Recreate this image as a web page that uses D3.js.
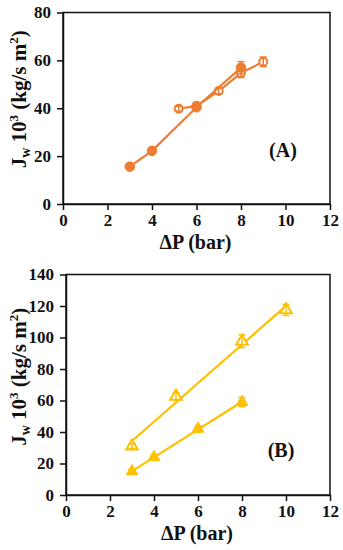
<!DOCTYPE html>
<html>
<head>
<meta charset="utf-8">
<script src="https://cdn.jsdelivr.net/npm/d3@7"></script>
<style>
  body { margin: 0; background: #fff; }
  svg text { font-family: "Liberation Serif", "Times New Roman", serif; font-weight: bold; fill: #111; }
</style>
</head>
<body>
<svg id="chart" width="343" height="550"></svg>
<script>
// panel A: orange circles
const aFilledX = [3, 4, 6, 8];
const aFilledY = [15.6, 22.2, 40.4, 57.0];
const aFilledErr = [0.6, 0.8, 1.0, 2.5];
const aOpenX = [5.2, 6, 7, 8, 9];
const aOpenY = [39.8, 41.0, 47.2, 54.8, 59.4];
const aOpenErr = [1.0, 1.0, 1.2, 2.0, 2.0];

// panel B: yellow triangles
const bOpenX = [3, 5, 8, 10];
const bOpenY = [31, 62.6, 97.6, 117.5];
const bOpenErr = [1.5, 2.5, 4.0, 3.5];
const bFilledX = [3, 4, 6, 8];
const bFilledY = [15, 24, 42, 59];
const bFilledErr = [1.5, 1.5, 2.0, 3.0];

const xTicks = [0, 2, 4, 6, 8, 10, 12];
const aYTicks = [0, 20, 40, 60, 80];
const bYTicks = [0, 20, 40, 60, 80, 100, 120, 140];

const orange = "#ED7D31";
const yellow = "#FFC000";

const svg = d3.select("#chart");

function zip(xs, ys, es) {
    return xs.map((x, i) => ({ x: x, y: ys[i], e: es[i] }));
}

// least squares line for the trend lines in panel B
function fit(pts) {
    const mx = d3.mean(pts, d => d.x), my = d3.mean(pts, d => d.y);
    const sxy = d3.sum(pts, d => (d.x - mx) * (d.y - my));
    const sxx = d3.sum(pts, d => (d.x - mx) * (d.x - mx));
    const b = sxy / sxx;
    const a = my - b * mx;
    const x0 = d3.min(pts, d => d.x), x1 = d3.max(pts, d => d.x);
    return [{ x: x0, y: a + b * x0 }, { x: x1, y: a + b * x1 }];
}

function panel(opt) {
    const x = d3.scaleLinear().domain([0, 12]).range([opt.left, opt.right]);
    const y = d3.scaleLinear().domain([0, opt.ymax]).range([opt.bottom, opt.top]);
    const g = svg.append("g");

    // frame
    g.append("rect")
        .attr("x", opt.left).attr("y", opt.top)
        .attr("width", opt.right - opt.left).attr("height", opt.bottom - opt.top)
        .attr("fill", "none").attr("stroke", "#111").attr("stroke-width", 1.5);

    const xAxis = g.append("g")
        .attr("transform", `translate(0,${opt.bottom})`)
        .call(d3.axisBottom(x).tickValues(xTicks).tickSize(6).tickSizeOuter(0).tickPadding(4));
    const yAxis = g.append("g")
        .attr("transform", `translate(${opt.left},0)`)
        .call(d3.axisLeft(y).tickValues(opt.yTicks).tickSize(6).tickSizeOuter(0).tickPadding(6));
    [xAxis, yAxis].forEach(ax => {
        ax.select(".domain").attr("stroke", "#111").attr("stroke-width", 1.5);
        ax.selectAll(".tick line").attr("stroke", "#111").attr("stroke-width", 1.5);
        ax.selectAll(".tick text").attr("font-size", 17).attr("fill", "#111")
            .style("font-family", "'Liberation Serif', serif").style("font-weight", "bold");
    });

    // axis titles
    g.append("text")
        .attr("x", (opt.left + opt.right) / 2 - 1).attr("y", opt.bottom + 45)
        .attr("text-anchor", "middle").attr("font-size", 20)
        .text("ΔP (bar)");

    const yt = g.append("text")
        .attr("transform", `translate(26,${(opt.top + opt.bottom) / 2 + opt.ytShift}) rotate(-90)`)
        .attr("text-anchor", "middle").attr("font-size", 21);
    yt.append("tspan").text("J");
    yt.append("tspan").attr("font-size", 14).attr("dy", 4).text("w");
    yt.append("tspan").attr("dy", -4).text(" 10");
    yt.append("tspan").attr("font-size", 13).attr("dy", -8).text("3");
    yt.append("tspan").attr("dy", 8).text(" (kg/s m");
    yt.append("tspan").attr("font-size", 13).attr("dy", -8).text("2");
    yt.append("tspan").attr("dy", 8).text(")");

    g.append("text")
        .attr("x", opt.labelX).attr("y", opt.labelY)
        .attr("text-anchor", "middle").attr("font-size", 20)
        .text(opt.label);

    const line = d3.line().x(d => x(d.x)).y(d => y(d.y));

    opt.series.forEach(s => {
        const pts = zip(s.xs, s.ys, s.es);
        g.append("path")
            .datum(s.trend ? fit(pts) : pts)
            .attr("d", line)
            .attr("fill", "none").attr("stroke", opt.color).attr("stroke-width", 2.2);

        const sym = d3.symbol().type(s.shape).size(s.size);
        g.append("g").selectAll("path")
            .data(pts).enter().append("path")
            .attr("transform", d => `translate(${x(d.x)},${y(d.y)})`)
            .attr("d", sym)
            .attr("fill", s.open ? "#fff" : opt.color)
            .attr("stroke", opt.color)
            .attr("stroke-width", s.open ? 2 : 1);

        // error bars with caps
        const eb = g.append("g").attr("stroke", opt.color).attr("stroke-width", 1.5);
        eb.selectAll("line.v").data(pts).enter().append("line")
            .attr("x1", d => x(d.x)).attr("x2", d => x(d.x))
            .attr("y1", d => y(d.y - d.e)).attr("y2", d => y(d.y + d.e));
        eb.selectAll("line.t").data(pts).enter().append("line")
            .attr("x1", d => x(d.x) - 3.5).attr("x2", d => x(d.x) + 3.5)
            .attr("y1", d => y(d.y + d.e)).attr("y2", d => y(d.y + d.e));
        eb.selectAll("line.b").data(pts).enter().append("line")
            .attr("x1", d => x(d.x) - 3.5).attr("x2", d => x(d.x) + 3.5)
            .attr("y1", d => y(d.y - d.e)).attr("y2", d => y(d.y - d.e));
    });
}

panel({
    left: 63, right: 330, top: 12.5, bottom: 204, ymax: 80, yTicks: aYTicks,
    color: orange, label: "(A)", labelX: 283, labelY: 157, ytShift: -9,
    series: [
        { xs: aOpenX, ys: aOpenY, es: aOpenErr, shape: d3.symbolCircle, size: 50, open: true, trend: false },
        { xs: aFilledX, ys: aFilledY, es: aFilledErr, shape: d3.symbolCircle, size: 72, open: false, trend: false }
    ]
});

panel({
    left: 66, right: 330, top: 274.5, bottom: 495, ymax: 140, yTicks: bYTicks,
    color: yellow, label: "(B)", labelX: 281, labelY: 457, ytShift: -8,
    series: [
        { xs: bOpenX, ys: bOpenY, es: bOpenErr, shape: d3.symbolTriangle, size: 60, open: true, trend: true },
        { xs: bFilledX, ys: bFilledY, es: bFilledErr, shape: d3.symbolTriangle, size: 60, open: false, trend: true }
    ]
});
</script>
</body>
</html>
